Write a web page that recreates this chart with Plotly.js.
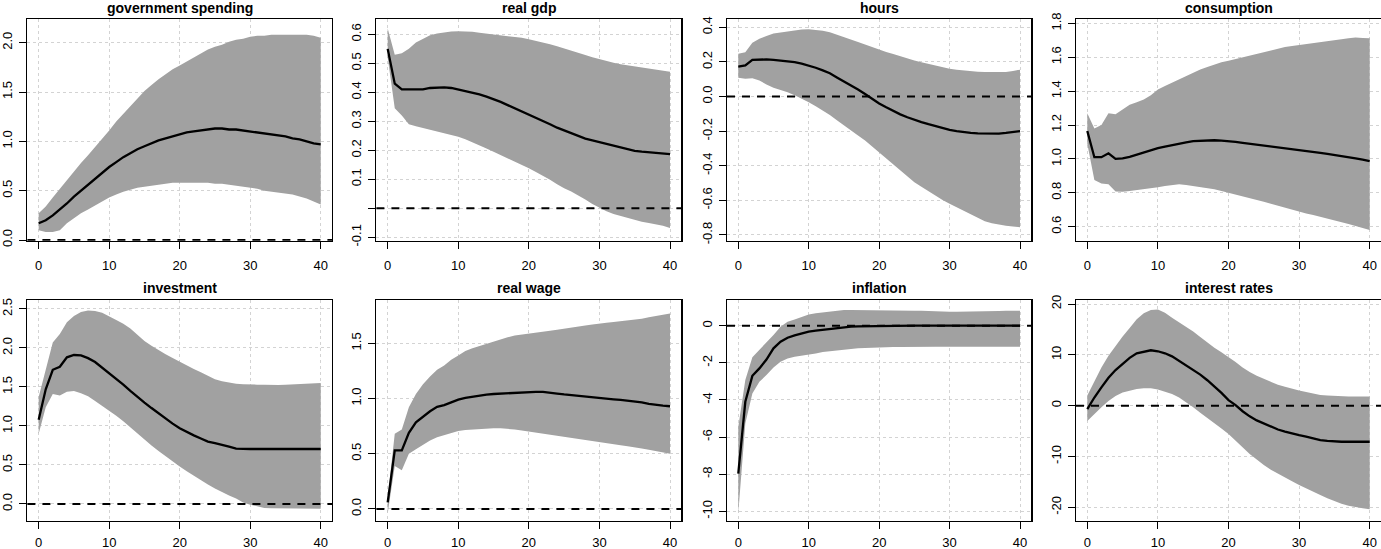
<!DOCTYPE html>
<html><head><meta charset="utf-8">
<script src="https://cdn.plot.ly/plotly-3.0.1.min.js"></script>
<style>html,body{margin:0;padding:0;background:#fff}#chart{width:1381px;height:549px}</style>
</head><body><div id="chart"></div>
<script>
// ---------------- data ----------------
const horizon = [0,1,2,3,4,5,6,7,8,9,10,11,12,13,14,15,16,17,18,19,20,21,22,23,24,25,26,27,28,29,30,31,32,33,34,35,36,37,38,39,40];
const panelTitles = ["government spending","real gdp","hours","consumption","investment","real wage","inflation","interest rates"];

const govMean  = [0.17,0.20,0.25,0.31,0.37,0.44,0.50,0.56,0.62,0.68,0.74,0.79,0.84,0.88,0.92,0.95,0.98,1.01,1.03,1.05,1.07,1.09,1.10,1.11,1.12,1.13,1.13,1.12,1.12,1.11,1.10,1.09,1.08,1.07,1.06,1.05,1.03,1.02,1.00,0.98,0.97];
const govUpper = [0.27,0.34,0.43,0.52,0.61,0.69,0.78,0.86,0.94,1.03,1.11,1.20,1.28,1.36,1.44,1.51,1.57,1.63,1.68,1.73,1.77,1.81,1.85,1.89,1.93,1.96,1.98,2.01,2.03,2.04,2.06,2.07,2.07,2.08,2.08,2.08,2.08,2.08,2.08,2.07,2.05];
const govLower = [0.10,0.08,0.08,0.10,0.17,0.22,0.27,0.31,0.35,0.39,0.43,0.46,0.49,0.51,0.53,0.54,0.55,0.56,0.57,0.58,0.58,0.58,0.58,0.58,0.58,0.57,0.57,0.56,0.55,0.54,0.53,0.52,0.50,0.49,0.48,0.47,0.46,0.44,0.42,0.39,0.36];

const gdpMean  = [0.55,0.43,0.41,0.41,0.41,0.41,0.415,0.417,0.417,0.415,0.41,0.403,0.40,0.393,0.385,0.377,0.367,0.356,0.345,0.335,0.324,0.314,0.302,0.29,0.278,0.268,0.26,0.25,0.24,0.234,0.228,0.22,0.214,0.21,0.204,0.198,0.195,0.193,0.19,0.188,0.187];
const gdpUpper = [0.62,0.53,0.535,0.55,0.572,0.586,0.597,0.603,0.607,0.61,0.611,0.611,0.609,0.606,0.603,0.60,0.598,0.595,0.592,0.588,0.583,0.578,0.572,0.566,0.559,0.552,0.545,0.537,0.529,0.521,0.514,0.508,0.502,0.497,0.493,0.489,0.485,0.481,0.477,0.474,0.471];
const gdpLower = [0.52,0.345,0.32,0.29,0.283,0.277,0.27,0.264,0.259,0.254,0.247,0.238,0.228,0.217,0.206,0.195,0.184,0.172,0.161,0.149,0.138,0.125,0.112,0.098,0.083,0.069,0.058,0.045,0.03,0.015,0.002,-0.01,-0.02,-0.027,-0.035,-0.042,-0.047,-0.051,-0.055,-0.06,-0.068];

const hoursMean  = [0.173,0.18,0.212,0.214,0.214,0.212,0.208,0.205,0.199,0.19,0.18,0.166,0.151,0.134,0.11,0.087,0.065,0.04,0.014,-0.015,-0.04,-0.062,-0.083,-0.103,-0.12,-0.135,-0.148,-0.16,-0.172,-0.183,-0.193,-0.2,-0.206,-0.21,-0.213,-0.214,-0.215,-0.214,-0.21,-0.205,-0.2];
const hoursUpper = [0.247,0.256,0.31,0.333,0.35,0.364,0.37,0.376,0.382,0.387,0.388,0.385,0.38,0.371,0.358,0.344,0.33,0.315,0.3,0.285,0.27,0.257,0.245,0.232,0.22,0.208,0.198,0.188,0.178,0.169,0.161,0.155,0.15,0.146,0.143,0.141,0.14,0.14,0.142,0.148,0.155];
const hoursLower = [0.108,0.102,0.105,0.093,0.07,0.05,0.037,0.025,0.007,-0.012,-0.033,-0.056,-0.08,-0.107,-0.137,-0.168,-0.196,-0.225,-0.254,-0.288,-0.322,-0.357,-0.393,-0.428,-0.462,-0.495,-0.522,-0.548,-0.574,-0.598,-0.62,-0.64,-0.66,-0.678,-0.70,-0.72,-0.732,-0.74,-0.746,-0.751,-0.755];

const consMean  = [1.165,1.01,1.01,1.033,1.0,1.003,1.012,1.025,1.038,1.048,1.063,1.072,1.082,1.09,1.098,1.105,1.108,1.11,1.11,1.108,1.106,1.1,1.095,1.09,1.084,1.078,1.075,1.07,1.064,1.058,1.052,1.048,1.042,1.036,1.03,1.024,1.017,1.01,1.003,0.995,0.987];
const consUpper = [1.27,1.18,1.2,1.27,1.263,1.29,1.32,1.335,1.35,1.375,1.41,1.43,1.45,1.47,1.49,1.51,1.527,1.543,1.557,1.57,1.58,1.59,1.602,1.612,1.622,1.633,1.642,1.651,1.66,1.667,1.672,1.678,1.684,1.69,1.696,1.701,1.706,1.712,1.717,1.714,1.712];
const consLower = [1.09,0.875,0.855,0.85,0.807,0.806,0.81,0.815,0.82,0.826,0.832,0.84,0.846,0.85,0.846,0.84,0.834,0.827,0.82,0.81,0.8,0.79,0.778,0.767,0.757,0.747,0.735,0.723,0.711,0.7,0.688,0.678,0.668,0.658,0.649,0.64,0.628,0.616,0.604,0.592,0.58];

const invMean  = [1.08,1.47,1.72,1.76,1.88,1.91,1.905,1.87,1.82,1.75,1.68,1.6,1.53,1.45,1.37,1.3,1.23,1.16,1.1,1.03,0.97,0.92,0.88,0.84,0.8,0.78,0.76,0.735,0.71,0.705,0.705,0.705,0.705,0.705,0.705,0.705,0.705,0.705,0.705,0.705,0.705];
const invUpper = [1.37,1.72,2.07,2.18,2.33,2.41,2.46,2.48,2.475,2.45,2.41,2.36,2.31,2.25,2.17,2.09,2.03,1.97,1.92,1.87,1.82,1.78,1.73,1.69,1.645,1.6,1.575,1.555,1.54,1.535,1.53,1.53,1.53,1.525,1.525,1.53,1.535,1.54,1.545,1.545,1.55];
const invLower = [0.9,1.24,1.41,1.39,1.44,1.45,1.42,1.38,1.32,1.26,1.2,1.13,1.06,0.98,0.9,0.82,0.75,0.68,0.61,0.54,0.48,0.42,0.36,0.3,0.25,0.2,0.15,0.11,0.07,0.02,-0.01,-0.03,-0.05,-0.055,-0.055,-0.055,-0.055,-0.055,-0.06,-0.06,-0.06];

const wageMean  = [0.06,0.53,0.53,0.69,0.785,0.835,0.885,0.925,0.94,0.965,0.99,1.005,1.017,1.027,1.035,1.041,1.045,1.048,1.051,1.056,1.06,1.06,1.06,1.055,1.045,1.037,1.03,1.022,1.016,1.01,1.005,0.998,0.993,0.988,0.982,0.975,0.965,0.952,0.942,0.936,0.93];
const wageUpper = [0.1,0.68,0.72,0.92,1.04,1.13,1.2,1.26,1.3,1.35,1.39,1.43,1.455,1.475,1.5,1.52,1.54,1.555,1.57,1.58,1.59,1.598,1.606,1.614,1.622,1.63,1.64,1.65,1.66,1.67,1.68,1.686,1.692,1.698,1.704,1.71,1.722,1.735,1.748,1.76,1.77];
const wageLower = [-0.04,0.39,0.35,0.5,0.54,0.58,0.62,0.65,0.67,0.69,0.705,0.715,0.72,0.725,0.728,0.73,0.73,0.728,0.72,0.71,0.7,0.69,0.68,0.672,0.664,0.655,0.645,0.635,0.625,0.613,0.6,0.592,0.584,0.576,0.568,0.56,0.548,0.536,0.524,0.512,0.5];

const inflMean  = [-7.97,-4.1,-2.7,-2.3,-1.82,-1.22,-0.86,-0.65,-0.52,-0.41,-0.32,-0.27,-0.22,-0.19,-0.15,-0.06,-0.05,-0.04,-0.03,-0.02,-0.01,0,0,0,0,0,0,0,0,0,0,0,0,0,0,0,0,0,0,0,0];
const inflUpper = [-5.45,-2.93,-1.7,-1.31,-0.92,-0.5,-0.05,0.22,0.34,0.49,0.61,0.67,0.72,0.76,0.8,0.84,0.85,0.85,0.85,0.84,0.84,0.84,0.83,0.82,0.81,0.81,0.8,0.78,0.76,0.75,0.75,0.75,0.75,0.75,0.76,0.77,0.78,0.79,0.8,0.8,0.8];
const inflLower = [-10.1,-5.27,-3.65,-3.02,-2.66,-2.25,-1.94,-1.76,-1.67,-1.62,-1.58,-1.5,-1.42,-1.37,-1.32,-1.28,-1.25,-1.22,-1.2,-1.18,-1.17,-1.16,-1.15,-1.15,-1.14,-1.14,-1.14,-1.13,-1.13,-1.13,-1.13,-1.13,-1.13,-1.13,-1.13,-1.13,-1.13,-1.13,-1.13,-1.13,-1.13];

const rateMean  = [-0.7,1.6,3.6,5.5,7.0,8.3,9.4,10.3,10.6,10.9,10.7,10.3,9.7,8.8,7.9,7.0,6.1,5.0,3.8,2.5,1.1,0.1,-1.1,-2.1,-2.9,-3.5,-4.1,-4.7,-5.1,-5.5,-5.8,-6.1,-6.5,-6.8,-6.95,-7.05,-7.1,-7.1,-7.1,-7.1,-7.1];
const rateUpper = [2.0,4.9,7.5,9.8,11.8,13.6,15.3,17.0,18.2,18.8,18.9,18.3,17.3,16.4,15.6,14.6,13.5,12.4,11.4,10.5,9.6,8.6,7.5,6.6,5.9,5.3,4.7,4.1,3.7,3.3,3.0,2.7,2.4,2.1,2.0,1.9,1.8,1.8,1.8,1.8,1.8];
const rateLower = [-3.0,-1.6,-0.3,0.9,1.9,2.6,3.0,3.3,3.4,3.4,3.2,2.8,2.3,1.6,0.7,-0.3,-1.4,-2.4,-3.5,-4.5,-5.6,-6.9,-8.2,-9.5,-10.6,-11.7,-12.6,-13.4,-14.2,-14.9,-15.6,-16.3,-17.0,-17.6,-18.2,-18.8,-19.3,-19.7,-20.0,-20.2,-20.4];

// tick values / labels
const xTickVals  = [0,10,20,30,40];
const xTickText  = ["0","10","20","30","40"];
const govTicks   = [0,0.5,1,1.5,2];          const govTickText   = ["0.0","0.5","1.0","1.5","2.0"];
const gdpTicks   = [-0.1,0,0.1,0.2,0.3,0.4,0.5,0.6]; const gdpTickText = ["-0.1","","0.1","0.2","0.3","0.4","0.5","0.6"];
const hoursTicks = [-0.8,-0.6,-0.4,-0.2,0,0.2,0.4]; const hoursTickText = ["-0.8","-0.6","-0.4","-0.2","0.0","0.2","0.4"];
const consTicks  = [0.6,0.8,1.0,1.2,1.4,1.6,1.8]; const consTickText = ["0.6","0.8","1.0","1.2","1.4","1.6","1.8"];
const invTicks   = [0,0.5,1,1.5,2,2.5];      const invTickText   = ["0.0","0.5","1.0","1.5","2.0","2.5"];
const wageTicks  = [0,0.5,1,1.5];            const wageTickText  = ["0.0","0.5","1.0","1.5"];
const inflTicks  = [-10,-8,-6,-4,-2,0];      const inflTickText  = ["-10","-8","-6","-4","-2","0"];
const rateTicks  = [-20,-10,0,10,20];        const rateTickText  = ["-20","-10","0","10","20"];

// ---------------- presentation ----------------
const W = 1381, H = 549;
const colLeft = [27.4, 376.4, 727, 1076];
const colRight = [332, 681.3, 1031.3, 1381];
const rowTop = [19.3, 300];
const rowBottom = [240.7, 521];
const xLabelStandoff = [5, 2];

const panels = [
  {mean: govMean,  up: govUpper,  lo: govLower,  tv: govTicks,   tt: govTickText,   yr: [-0.007, 2.237]},
  {mean: gdpMean,  up: gdpUpper,  lo: gdpLower,  tv: gdpTicks,   tt: gdpTickText,   yr: [-0.112, 0.652]},
  {mean: hoursMean,up: hoursUpper,lo: hoursLower,tv: hoursTicks, tt: hoursTickText, yr: [-0.833, 0.446]},
  {mean: consMean, up: consUpper, lo: consLower, tv: consTicks,  tt: consTickText,  yr: [0.517, 1.824]},
  {mean: invMean,  up: invUpper,  lo: invLower,  tv: invTicks,   tt: invTickText,   yr: [-0.218, 2.615]},
  {mean: wageMean, up: wageUpper, lo: wageLower, tv: wageTicks,  tt: wageTickText,  yr: [-0.109, 1.892]},
  {mean: inflMean, up: inflUpper, lo: inflLower, tv: inflTicks,  tt: inflTickText,  yr: [-10.52, 1.385]},
  {mean: rateMean, up: rateUpper, lo: rateLower, tv: rateTicks,  tt: rateTickText,  yr: [-22.7, 20.79]}
];

const FONT = "Liberation Sans, Arial, Helvetica, sans-serif";
const traces = [], shapes = [], annotations = [];
const layout = {
  width: W, height: H, margin: {l:0, r:0, t:0, b:0},
  paper_bgcolor: "#fff", plot_bgcolor: "#fff", showlegend: false,
  font: {family: FONT, size: 13, color: "#000"}
};

panels.forEach((p, i) => {
  const n = i + 1, sfx = n === 1 ? "" : String(n);
  const row = Math.floor(i / 4), col = i % 4;
  const xa = "x" + sfx, ya = "y" + sfx;
  traces.push({x: horizon, y: p.lo, xaxis: xa, yaxis: ya, mode: "lines", line: {width: 0, color: "#a1a1a1"}, hoverinfo: "skip"});
  traces.push({x: horizon, y: p.up, xaxis: xa, yaxis: ya, mode: "lines", fill: "tonexty", fillcolor: "#a1a1a1", line: {width: 0, color: "#a1a1a1"}, hoverinfo: "skip"});
  traces.push({x: horizon, y: p.mean, xaxis: xa, yaxis: ya, mode: "lines", line: {width: 2.3, color: "#000"}});
  shapes.push({type: "line", xref: xa + " domain", yref: ya, x0: 0, x1: 1, y0: 0, y1: 0,
               line: {color: "#000", width: 2, dash: "8px,7px"}});
  const common = {
    ticks: "outside", ticklen: 7, tickwidth: 1, tickcolor: "#000",
    showline: true, linecolor: "#000", linewidth: 1.3, mirror: true,
    showgrid: true, gridcolor: "#d3d3d3", griddash: "dot", gridwidth: 1,
    zeroline: false, fixedrange: true,
    tickfont: {family: FONT, size: 13, color: "#000"}
  };
  layout["xaxis" + sfx] = Object.assign({}, common, {
    domain: [colLeft[col] / W, Math.min(colRight[col] / W, 1)],
    anchor: ya, range: [-1.6, 41.6], tickmode: "array", tickvals: xTickVals, ticktext: xTickText,
    ticklabelstandoff: xLabelStandoff[row]
  });
  layout["yaxis" + sfx] = Object.assign({}, common, {
    domain: [1 - rowBottom[row] / H, 1 - rowTop[row] / H],
    anchor: xa, range: p.yr, tickmode: "array", tickvals: p.tv, ticktext: p.tt,
    tickangle: -90, ticklabelstandoff: 2
  });
  annotations.push({
    text: panelTitles[i], xref: "paper", yref: "paper",
    x: (colLeft[col] + colRight[col]) / 2 / W, y: 1 - (row === 0 ? 8 : 288) / H,
    xanchor: "center", yanchor: "middle", showarrow: false,
    font: {family: FONT, size: 14, color: "#000", weight: "bold"}
  });
});
layout.shapes = shapes;
layout.annotations = annotations;

Plotly.newPlot("chart", traces, layout, {staticPlot: true, displayModeBar: false});
</script>
</body></html>
